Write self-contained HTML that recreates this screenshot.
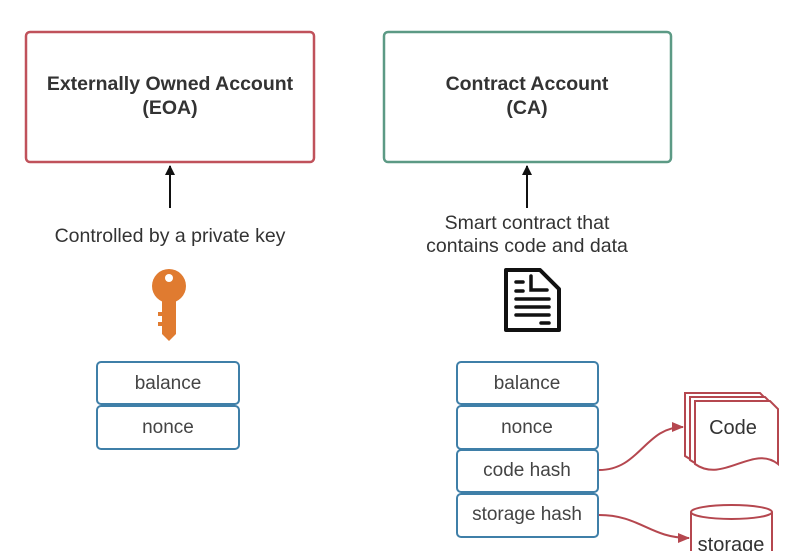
<!DOCTYPE html>
<html><head><style>body{margin:0;background:#fff;}svg{display:block;font-family:"Liberation Sans",sans-serif;}</style></head><body>
<svg width="800" height="551" viewBox="0 0 800 551">
<defs>
<marker id="ab" markerWidth="10" markerHeight="10" refX="9" refY="5" orient="auto" markerUnits="userSpaceOnUse"><path d="M0,0 L10,5 L0,10 z" fill="#111"/></marker>
<marker id="ar" markerWidth="12" markerHeight="10" refX="11" refY="5" orient="auto" markerUnits="userSpaceOnUse"><path d="M0,0 L12,5 L0,10 z" fill="#b5474f"/></marker>
</defs>
<rect x="26" y="32" width="288" height="130" rx="4" fill="#fff" stroke="#c0525b" stroke-width="2.5"/>
<rect x="384" y="32" width="287" height="130" rx="4" fill="#fff" stroke="#5c9a85" stroke-width="2.5"/>
<g font-weight="bold" font-size="19.5" fill="#333" text-anchor="middle">
<text x="170" y="90">Externally Owned Account</text><text x="170" y="114">(EOA)</text>
<text x="527" y="90">Contract Account</text><text x="527" y="114">(CA)</text>
</g>
<line x1="170" y1="208" x2="170" y2="166" stroke="#111" stroke-width="2" marker-end="url(#ab)"/>
<line x1="527" y1="208" x2="527" y2="166" stroke="#111" stroke-width="2" marker-end="url(#ab)"/>
<g font-size="19.5" fill="#333" text-anchor="middle">
<text x="170" y="242">Controlled by a private key</text>
<text x="527" y="229">Smart contract that</text><text x="527" y="252">contains code and data</text>
</g>
<!-- key -->
<g fill="#e07b30">
<circle cx="169" cy="286" r="17"/>
<path d="M162,298 h14 v36 l-7,7 l-7,-7 z"/>
<path d="M162,312 h-4 v4 h4 z M162,322 h-4 v4 h4 z"/>
</g>
<circle cx="169" cy="278" r="4" fill="#fff"/>
<!-- document -->
<path d="M506,270 h34 l19,19 v41 h-53 z" fill="#fff" stroke="#111" stroke-width="4" stroke-linejoin="round"/>
<g stroke="#111" stroke-width="3.5" stroke-linecap="round" fill="none">
<path d="M531,276 v14 h16"/><line x1="516" y1="282" x2="523" y2="282"/><line x1="516" y1="291" x2="523" y2="291"/>
<line x1="516" y1="299" x2="549" y2="299"/><line x1="516" y1="307" x2="549" y2="307"/><line x1="516" y1="315" x2="549" y2="315"/><line x1="541" y1="323" x2="549" y2="323"/>
</g>
<g fill="#fff" stroke="#3f7fa8" stroke-width="2">
<rect x="97" y="362" width="142" height="42" rx="4"/><rect x="97" y="406" width="142" height="43" rx="4"/>
<rect x="457" y="362" width="141" height="42" rx="4"/><rect x="457" y="406" width="141" height="43" rx="4"/>
<rect x="457" y="450" width="141" height="42" rx="4"/><rect x="457" y="494" width="141" height="43" rx="4"/>
</g>
<g font-size="19" fill="#444" text-anchor="middle">
<text x="168" y="389">balance</text><text x="168" y="433">nonce</text>
<text x="527" y="389">balance</text><text x="527" y="433">nonce</text><text x="527" y="476">code hash</text><text x="527" y="520">storage hash</text>
</g>
<!-- code -->
<g fill="#fff" stroke="#b5474f" stroke-width="2">
<path d="M685,393 h75 l8,8 v55 c-25,-20 -55,20 -83,0 z"/>
<path d="M690,397 h75 l8,8 v55 c-25,-20 -55,20 -83,0 z"/>
<path d="M695,401 h75 l8,8 v55 c-25,-20 -55,20 -83,0 z"/>
</g>
<text x="733" y="434" font-size="20" fill="#333" text-anchor="middle">Code</text>
<!-- storage -->
<path d="M691,512 v45 h81 v-45" fill="#fff" stroke="#b5474f" stroke-width="2"/>
<ellipse cx="731.5" cy="512" rx="40.5" ry="7" fill="#fff" stroke="#b5474f" stroke-width="2"/>
<text x="731" y="551" font-size="20" fill="#333" text-anchor="middle">storage</text>
<path d="M599,470 C640,470 645,427 683,427" fill="none" stroke="#b5474f" stroke-width="2" marker-end="url(#ar)"/>
<path d="M599,515 C640,515 650,538 689,538" fill="none" stroke="#b5474f" stroke-width="2" marker-end="url(#ar)"/>
</svg>
</body></html>
